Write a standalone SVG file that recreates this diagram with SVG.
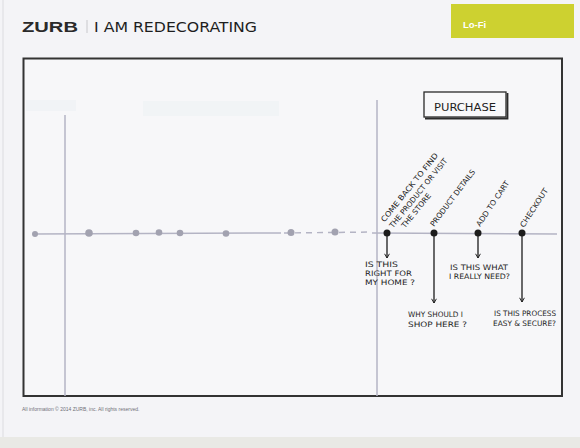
<svg xmlns="http://www.w3.org/2000/svg" width="580" height="448" viewBox="0 0 580 448">
<style>
.hand{font-family:"DejaVu Sans Condensed","DejaVu Sans","Liberation Sans",sans-serif;fill:#1e1e1e;}
.stage{font-size:7.5px;}
.q{font-size:7.5px;}
.axis{stroke:#b4b4c4;stroke-width:1.5;fill:none;}
.gdot{fill:#a2a2b0;}
.bdot{fill:#1c1c1c;}
.arrow{stroke:#1c1c1c;stroke-width:1.3;fill:none;}
</style>
<defs>
<marker id="ah" viewBox="0 0 10 10" refX="8" refY="5" markerWidth="6" markerHeight="6" orient="auto" markerUnits="userSpaceOnUse">
<path d="M1,1 L8,5 L1,9" fill="none" stroke="#1c1c1c" stroke-width="1.6"/>
</marker>
</defs>
<rect width="580" height="448" fill="#f4f4f7"/>
<rect x="0" y="437" width="580" height="11" fill="#e9e9e5"/>
<line x1="3" y1="0" x2="3" y2="437" stroke="#dcdce0" stroke-width="1"/>

<g id="header">
<text x="22" y="32" font-family="Liberation Sans, sans-serif" font-weight="bold" font-size="14" fill="#2a2a2a" textLength="56" lengthAdjust="spacingAndGlyphs">ZURB</text>
<line x1="87" y1="20" x2="87" y2="33" stroke="#c8c8cc" stroke-width="1"/>
<text x="94" y="32" class="hand" font-size="14" font-weight="200" textLength="163" lengthAdjust="spacingAndGlyphs" fill="#333">I AM REDECORATING</text>
</g>

<g id="lofi">
<rect x="451" y="4" width="123" height="34" fill="#cdd130"/>
<text x="463" y="28" font-family="Liberation Sans, sans-serif" font-weight="bold" font-size="9.5" fill="#ffffff">Lo-Fi</text>
</g>

<g id="frame">
<rect x="23.5" y="58.5" width="538.5" height="337.5" fill="#f7f7f9" stroke="#333" stroke-width="2"/>
<rect x="26" y="100" width="50" height="11" fill="#f1f3f6"/>
<rect x="143" y="101" width="136" height="15" fill="#f1f4f6"/>
</g>

<g id="footer">
<text x="22" y="411" font-family="Liberation Sans, sans-serif" font-size="5" fill="#707078">All information © 2014 ZURB, inc.  All rights reserved.</text>
</g>

<g id="connectors">
<line class="axis" x1="65" y1="115" x2="65" y2="396"/>
<line class="axis" x1="377" y1="100" x2="377" y2="396"/>
<line class="axis" x1="34" y1="234" x2="281" y2="233"/>
<line class="axis" x1="284" y1="233" x2="372" y2="232" stroke-dasharray="6,5"/>
<line class="axis" x1="372" y1="233" x2="557" y2="234"/>
<line class="arrow" x1="387" y1="233" x2="387" y2="258" marker-end="url(#ah)"/>
<line class="arrow" x1="434" y1="233" x2="434" y2="303" marker-end="url(#ah)"/>
<line class="arrow" x1="478" y1="233" x2="478" y2="258" marker-end="url(#ah)"/>
<line class="arrow" x1="522" y1="233" x2="522" y2="302" marker-end="url(#ah)"/>
</g>

<g id="past-steps">
<circle class="gdot" cx="35" cy="234" r="3"/>
<circle class="gdot" cx="89" cy="233" r="3.8"/>
<circle class="gdot" cx="136" cy="233" r="3.3"/>
<circle class="gdot" cx="159" cy="232.5" r="3.3"/>
<circle class="gdot" cx="180" cy="233" r="3.3"/>
<circle class="gdot" cx="226" cy="233.5" r="3.3"/>
<circle class="gdot" cx="291" cy="232.5" r="3.5"/>
<circle class="gdot" cx="335" cy="232" r="3.5"/>
</g>

<g id="purchase">
<rect x="424" y="92" width="82" height="25" fill="#f8f8fa" stroke="#2a2a2a" stroke-width="1.3"/>
<path d="M425,118.5 H507.5 V93" fill="none" stroke="#2a2a2a" stroke-width="1.8"/>
<text x="465" y="110.5" class="hand" font-size="11" text-anchor="middle" textLength="62" lengthAdjust="spacingAndGlyphs">PURCHASE</text>
</g>

<g id="step-return">
<circle class="bdot" cx="387" cy="233" r="3.5"/>
<text class="hand stage" transform="translate(384.5,222.5) rotate(-51)" textLength="86" lengthAdjust="spacingAndGlyphs">COME BACK TO FIND</text>
<text class="hand stage" transform="translate(393,228.5) rotate(-51)" textLength="87" lengthAdjust="spacingAndGlyphs">THE PRODUCT OR VISIT</text>
<text class="hand stage" transform="translate(405,228.5) rotate(-51)" textLength="42" lengthAdjust="spacingAndGlyphs">THE STORE</text>
<text class="hand q" x="365" y="267" textLength="33" lengthAdjust="spacingAndGlyphs">IS THIS</text>
<text class="hand q" x="365" y="276" textLength="47" lengthAdjust="spacingAndGlyphs">RIGHT FOR</text>
<text class="hand q" x="365" y="285" textLength="50" lengthAdjust="spacingAndGlyphs">MY HOME ?</text>
</g>

<g id="step-details">
<circle class="bdot" cx="434" cy="233" r="3.5"/>
<text class="hand stage" transform="translate(434,227) rotate(-53)" textLength="69" lengthAdjust="spacingAndGlyphs">PRODUCT DETAILS</text>
<text class="hand q" x="408" y="317" textLength="55" lengthAdjust="spacingAndGlyphs">WHY SHOULD I</text>
<text class="hand q" x="408" y="327" textLength="59" lengthAdjust="spacingAndGlyphs">SHOP HERE ?</text>
</g>

<g id="step-cart">
<circle class="bdot" cx="478" cy="233" r="3.5"/>
<text class="hand stage" transform="translate(480,227) rotate(-56)" textLength="53" lengthAdjust="spacingAndGlyphs">ADD TO CART</text>
<text class="hand q" x="450" y="270" textLength="58" lengthAdjust="spacingAndGlyphs">IS THIS WHAT</text>
<text class="hand q" x="449" y="279" textLength="61" lengthAdjust="spacingAndGlyphs">I REALLY NEED?</text>
</g>

<g id="step-checkout">
<circle class="bdot" cx="522" cy="233" r="3.5"/>
<text class="hand stage" transform="translate(524,228) rotate(-57)" textLength="45" lengthAdjust="spacingAndGlyphs">CHECKOUT</text>
<text class="hand q" x="494" y="316" textLength="62" lengthAdjust="spacingAndGlyphs">IS THIS PROCESS</text>
<text class="hand q" x="493" y="326" textLength="63" lengthAdjust="spacingAndGlyphs">EASY &amp; SECURE?</text>
</g>
</svg>
